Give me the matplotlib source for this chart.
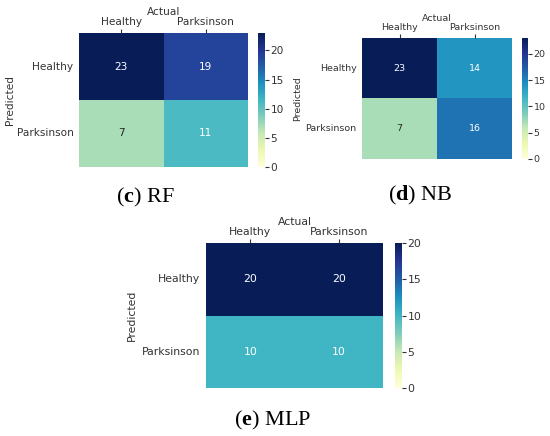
import matplotlib
matplotlib.use("Agg")
import matplotlib.pyplot as plt
import numpy as np
import seaborn as sns

# DATA ########################################################################

class_labels = ["Healthy", "Parksinson"]

rf_matrix = [[23, 19],
             [7, 11]]
nb_matrix = [[23, 14],
             [7, 16]]
mlp_matrix = [[20, 20],
              [10, 10]]

panel_titles = [("c", "RF"), ("d", "NB"), ("e", "MLP")]

# FIGURE ######################################################################

W, H = 550, 436
fig = plt.figure(figsize=(W / 100, H / 100), dpi=100)
plt.rcParams["mathtext.fontset"] = "custom"
plt.rcParams["mathtext.bf"] = "Liberation Serif:bold"
plt.rcParams["mathtext.rm"] = "Liberation Serif"


def px_axes(x0, y0, x1, y1):
    # pixel box (top-left origin) -> figure axes
    return fig.add_axes([x0 / W, 1 - y1 / H, (x1 - x0) / W, (y1 - y0) / H])


def draw_cm(matrix, box, cbox, fs, title, title_xy, ylabelpad=4):
    ax = px_axes(*box)
    cax = px_axes(*cbox)
    data = np.array(matrix)
    sns.heatmap(data, ax=ax, cbar_ax=cax, annot=True, fmt="d", cmap="YlGnBu",
                vmin=0, xticklabels=class_labels, yticklabels=class_labels,
                annot_kws={"fontsize": fs})
    ax.xaxis.tick_top()
    ax.xaxis.set_label_position("top")
    ax.set_xlabel("Actual", fontsize=fs, color="#333333", labelpad=2)
    ax.set_ylabel("Predicted", fontsize=fs, color="#333333", labelpad=ylabelpad)
    ax.tick_params(axis="x", length=3, pad=1, labelsize=fs, colors="#333333")
    ax.tick_params(axis="y", length=0, pad=4, labelsize=fs, colors="#333333")
    plt.setp(ax.get_yticklabels(), rotation=0)
    plt.setp(ax.get_xticklabels(), rotation=0)
    cax.tick_params(labelsize=fs, length=3, pad=1, colors="#333333")
    cax.yaxis.set_major_locator(matplotlib.ticker.MultipleLocator(5))
    letter, name = title
    fig.text(title_xy[0] / W, 1 - title_xy[1] / H,
             r"($\mathbf{%s}$) %s" % (letter, name),
             ha="center", va="center", fontsize=16, family="Liberation Serif")
    return ax


draw_cm(rf_matrix, (79, 33, 248, 167), (258, 33, 265, 167), 7.6,
        panel_titles[0], (145, 197), ylabelpad=1)
draw_cm(nb_matrix, (362, 38, 512, 159), (522, 38, 528, 159), 6.8,
        panel_titles[1], (420, 195), ylabelpad=2)
draw_cm(mlp_matrix, (206, 243, 383, 388), (395, 243, 402, 388), 7.8,
        panel_titles[2], (273, 420))

plt.savefig("out.png", dpi=100)
